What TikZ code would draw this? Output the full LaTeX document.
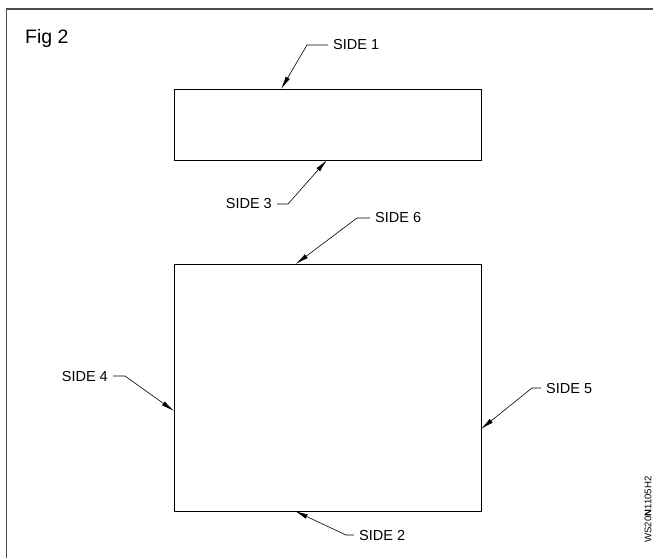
\documentclass[tikz,border=0pt]{standalone}
\usepackage{fontspec}
\setmainfont{Liberation Sans}
\usetikzlibrary{calc, arrows.meta}

\begin{document}
\begin{tikzpicture}[x=1pt, y=-1pt,
        face/.style={draw, line width=0.9pt, inner sep=0pt, outer sep=0pt, minimum width=307pt},
        tag/.style={inner xsep=5pt, inner ysep=0pt, font=\fontsize{14.5}{17}\selectfont},
        leader/.style={line width=0.6pt, -{Latex[length=13pt,width=4.8pt]}}]
    \useasboundingbox (0,0) rectangle (653,558);
    \draw[line width=1.3pt, black!70] (6.7,558) -- (6.7,9) -- (653,9);
    \node[anchor=base west, inner sep=0pt, font=\fontsize{19.5}{22}\selectfont] (fig) at (25,43.3) {Fig 2};

    \node[face, minimum height=71pt] (top) at (327.5,124.5) {};
    \node[face, minimum height=247pt] (big) at (327.5,387.5) {};

    \coordinate (t1) at ($(top.north west)!0.349!(top.north east)$);
    \coordinate (t3) at ($(top.south west)!0.498!(top.south east)$);
    \coordinate (t6) at ($(big.north west)!0.397!(big.north east)$);
    \coordinate (t4) at ($(big.north west)!0.595!(big.south west)$);
    \coordinate (t5) at ($(big.north east)!0.668!(big.south east)$);
    \coordinate (t2) at ($(big.south west)!0.394!(big.south east)$);

    \node[tag, anchor=west] (s1) at (328,45) {SIDE 1};
    \node[tag, anchor=east] (s3) at (277,204) {SIDE 3};
    \node[tag, anchor=west] (s6) at (370,218) {SIDE 6};
    \node[tag, anchor=east] (s4) at (113,376) {SIDE 4};
    \node[tag, anchor=west] (s5) at (541,388) {SIDE 5};
    \node[tag, anchor=west] (s2) at (354,535) {SIDE 2};

    \draw[leader] (s1.west) -- ++(-21,0) -- (t1);
    \draw[leader] (s3.east) -- ++(11,0) -- (t3);
    \draw[leader] (s6.west) -- ++(-13,0) -- (t6);
    \draw[leader] (s4.east) -- ++(12,0) -- (t4);
    \draw[leader] (s5.west) -- ++(-9,0) -- (t5);
    \draw[leader] (s2.west) -- ++(-8,0) -- (t2);

    \node[rotate=90, inner sep=0pt, font=\fontsize{9.6}{11}\selectfont] (code) at (648,509.5) {WS20\textbf{N}1105H2};
\end{tikzpicture}
\end{document}
